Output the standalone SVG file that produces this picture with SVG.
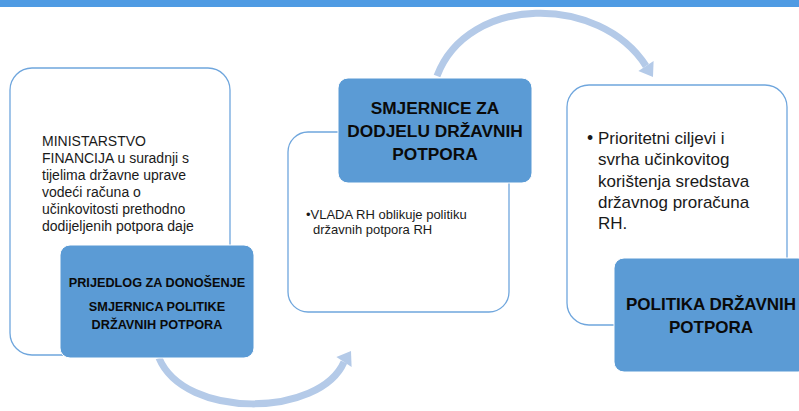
<svg xmlns="http://www.w3.org/2000/svg" width="799" height="411" viewBox="0 0 799 411">
<style>
.bar{fill:#4f9be3}
.card{fill:#fff;stroke:#6fa6dd;stroke-width:1.3}
.tag{fill:#5b9bd5;stroke:#fff;stroke-width:1}
.arc{fill:none;stroke:#b4cae8;stroke-width:7}
.head{fill:#b4cae8}
.t{font-family:"Liberation Sans",Arial,sans-serif;fill:#1a1a1a}
.b{font-family:"Liberation Sans",Arial,sans-serif;font-weight:bold;fill:#0a0a0a;text-anchor:middle}
</style>
<rect class="bar" x="0" y="0" width="799" height="7"/>
<g id="connectors">
<path class="arc" d="M437,76 C468,-6 600,-6 646,66"/>
<polygon class="head" points="638.4,70.9 653.6,61.1 653,77"/>
<path class="arc" d="M159,358 C185,420 320,417 344,362"/>
<polygon class="head" points="336.4,357.1 351.6,366.9 351,351"/>
</g>
<g id="node-ministarstvo">
<rect class="card" x="10" y="68" width="220" height="287" rx="22"/>
<text class="t" font-size="14" x="42" y="146">MINISTARSTVO</text>
<text class="t" font-size="14" x="42" y="163">FINANCIJA u suradnji s</text>
<text class="t" font-size="14" x="42" y="180">tijelima državne uprave</text>
<text class="t" font-size="14" x="42" y="197">vodeći računa o</text>
<text class="t" font-size="14" x="42" y="214">učinkovitosti prethodno</text>
<text class="t" font-size="14" x="42" y="231">dodijeljenih potpora daje</text>
</g>
<g id="node-prijedlog">
<rect class="tag" x="60" y="245" width="194" height="113" rx="10"/>
<text class="b" font-size="12.7" x="157" y="287">PRIJEDLOG ZA DONOŠENJE</text>
<text class="b" font-size="12.7" x="157" y="311">SMJERNICA POLITIKE</text>
<text class="b" font-size="12.7" x="157" y="329">DRŽAVNIH POTPORA</text>
</g>
<g id="node-vlada">
<rect class="card" x="288" y="132" width="221" height="180" rx="20"/>
<text class="t" font-size="13" x="306" y="219">•VLADA RH oblikuje politiku</text>
<text class="t" font-size="13" x="313" y="234">državnih potpora RH</text>
</g>
<g id="node-smjernice">
<rect class="tag" x="338" y="78" width="194" height="105" rx="10"/>
<text class="b" font-size="17.3" x="435" y="114">SMJERNICE ZA</text>
<text class="b" font-size="17.3" x="435" y="137">DODJELU DRŽAVNIH</text>
<text class="b" font-size="17.3" x="435" y="160">POTPORA</text>
</g>
<g id="node-ciljevi">
<rect class="card" x="567" y="85" width="220" height="240" rx="22"/>
<text class="t" font-size="17.5" x="587" y="144">•</text>
<text class="t" font-size="17" x="598" y="144">Prioritetni ciljevi i</text>
<text class="t" font-size="17" x="598" y="165">svrha učinkovitog</text>
<text class="t" font-size="17" x="598" y="187">korištenja sredstava</text>
<text class="t" font-size="17" x="598" y="208">državnog proračuna</text>
<text class="t" font-size="17" x="598" y="229">RH.</text>
</g>
<g id="node-politika">
<rect class="tag" x="614" y="258" width="194" height="114" rx="10"/>
<text class="b" font-size="17" x="711" y="310">POLITIKA DRŽAVNIH</text>
<text class="b" font-size="17" x="711" y="333">POTPORA</text>
</g>
</svg>
